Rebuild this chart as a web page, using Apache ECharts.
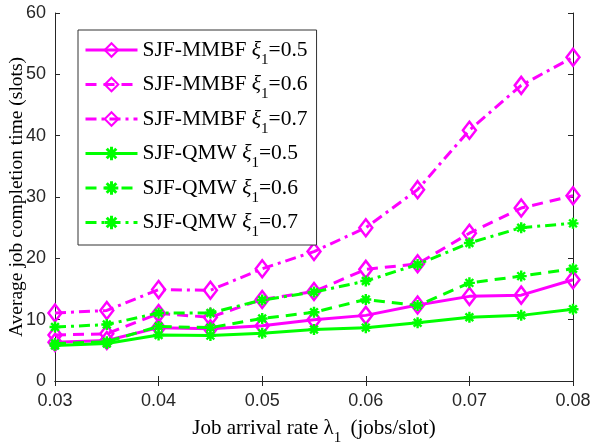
<!DOCTYPE html>
<html>
<head>
<meta charset="utf-8">
<script src="https://cdn.jsdelivr.net/npm/echarts@6/dist/echarts.min.js"></script>
<style>
  html, body { margin: 0; padding: 0; background: #fff; overflow: hidden; }
  #chart { width: 100vw; height: 100vh; }
</style>
</head>
<body>
<div id="chart"></div>
<script>
// Job arrival rate (jobs/slot)
const arrivalRates = [0.03, 0.035, 0.04, 0.045, 0.05, 0.055, 0.06, 0.065, 0.07, 0.075, 0.08];

// Average job completion time (slots)
const mmbf05 = [6.3, 6.6, 8.7, 8.5, 9.0, 10.0, 10.7, 12.4, 13.8, 14.0, 16.5];
const mmbf06 = [7.5, 7.7, 11.0, 10.4, 13.3, 14.6, 18.2, 19.1, 24.1, 28.2, 30.2];
const mmbf07 = [11.1, 11.5, 14.9, 14.8, 18.3, 21.1, 25.0, 31.2, 40.9, 48.2, 52.8];
const qmw05 = [5.8, 6.1, 7.5, 7.4, 7.8, 8.4, 8.7, 9.5, 10.4, 10.7, 11.7];
const qmw06 = [6.1, 6.4, 8.9, 8.7, 10.2, 11.2, 13.3, 12.3, 16.0, 17.1, 18.3];
const qmw07 = [8.8, 9.2, 11.1, 11.1, 13.2, 14.5, 16.3, 19.0, 22.5, 25.0, 25.7];

const seriesNames = [
  'SJF-MMBF ξ1=0.5', 'SJF-MMBF ξ1=0.6', 'SJF-MMBF ξ1=0.7',
  'SJF-QMW ξ1=0.5', 'SJF-QMW ξ1=0.6', 'SJF-QMW ξ1=0.7'
];

const MAGENTA = '#ff00ff';
const GREEN = '#00ff00';
const DASH = [11, 7];
const DASHDOT = [11, 5, 3, 5];

// asterisk marker built from four overlapping bars
const ASTERISK = 'path://' +
  'M-1,-0.22L1,-0.22L1,0.22L-1,0.22Z' +
  'M-0.22,-1L0.22,-1L0.22,1L-0.22,1Z' +
  'M-0.55,-0.86L0.86,0.55L0.55,0.86L-0.86,-0.55Z' +
  'M-0.86,0.55L0.55,-0.86L0.86,-0.55L-0.55,0.86Z';

function pairs(vals) {
  return arrivalRates.map((x, i) => [x, vals[i]]);
}

function mmbfSeries(name, vals, type) {
  return {
    name, type: 'line', data: pairs(vals),
    symbol: 'diamond', symbolSize: [13, 17],
    lineStyle: { color: MAGENTA, width: 3, type },
    itemStyle: { color: 'rgba(255,255,255,0)', borderColor: MAGENTA, borderWidth: 2.5 },
    z: 3
  };
}
function qmwSeries(name, vals, type) {
  return {
    name, type: 'line', data: pairs(vals),
    symbol: ASTERISK, symbolSize: 11,
    lineStyle: { color: GREEN, width: 3, type },
    itemStyle: { color: GREEN, borderWidth: 0 },
    z: 4
  };
}

const serif = '"Liberation Serif", "Times New Roman", serif';
const sans = '"Liberation Sans", Arial, Helvetica, sans-serif';

const chart = echarts.init(document.getElementById('chart'), null, { renderer: 'canvas' });

const axisLine = { show: true, lineStyle: { color: '#262626', width: 1 } };
const tick = { show: true, inside: true, length: 5, lineStyle: { color: '#262626' } };

chart.setOption({
  animation: false,
  backgroundColor: '#fff',
  grid: { left: 55, right: 17, top: 13, bottom: 62, outerBoundsMode: 'none', containLabel: false },
  xAxis: [{
    type: 'value', min: 0.03, max: 0.08, interval: 0.01,
    axisLine, axisTick: tick, splitLine: { show: false },
    axisLabel: { color: '#262626', fontFamily: sans, fontSize: 18, margin: 11,
      formatter: v => v.toFixed(2) },
    name: '{t|Job arrival rate }{l|λ}{s|1}{t| (jobs/slot)}',
    nameLocation: 'middle', nameGap: 30,
    nameTextStyle: {
      rich: {
        t: { fontFamily: serif, fontSize: 21, color: '#000' },
        l: { fontFamily: serif, fontSize: 21, color: '#000' },
        s: { fontFamily: serif, fontSize: 15, color: '#000', padding: [20, 4, 0, 0] }
      }
    }
  }, {
    type: 'value', position: 'top', min: 0.03, max: 0.08, interval: 0.01,
    axisLine, axisTick: tick, axisLabel: { show: false }, splitLine: { show: false }
  }],
  yAxis: [{
    type: 'value', min: 0, max: 60, interval: 10,
    axisLine, axisTick: tick, splitLine: { show: false },
    axisLabel: { color: '#262626', fontFamily: sans, fontSize: 18, margin: 9 },
    name: 'Average job completion time (slots)',
    nameLocation: 'middle', nameGap: 28, nameRotate: 90, nameMoveOverlap: false,
    nameTextStyle: { fontFamily: serif, fontSize: 19.5, color: '#000' }
  }, {
    type: 'value', position: 'right', min: 0, max: 60, interval: 10,
    axisLine, axisTick: tick, axisLabel: { show: false }, splitLine: { show: false }
  }],
  legend: {
    orient: 'vertical', left: 78, top: 30,
    backgroundColor: '#fff', borderColor: '#333', borderWidth: 1,
    padding: [9, 9, 5, 6],
    itemWidth: 52, itemHeight: 17, itemGap: 6,
    lineStyle: { width: 3 },
    data: seriesNames,
    formatter: name => {
      const m = name.match(/^(\S+) ξ1=(.*)$/);
      return '{t|' + m[1] + ' }{g|ξ}{s|1}{t|=' + m[2] + '}';
    },
    textStyle: {
      rich: {
        t: { fontFamily: serif, fontSize: 21.5, color: '#000' },
        g: { fontFamily: serif, fontSize: 21.5, fontStyle: 'italic', color: '#000' },
        s: { fontFamily: serif, fontSize: 15, color: '#000', padding: [20, 0, 0, 0] }
      }
    }
  },
  series: [
    mmbfSeries(seriesNames[0], mmbf05, 'solid'),
    mmbfSeries(seriesNames[1], mmbf06, DASH),
    mmbfSeries(seriesNames[2], mmbf07, DASHDOT),
    qmwSeries(seriesNames[3], qmw05, 'solid'),
    qmwSeries(seriesNames[4], qmw06, DASH),
    qmwSeries(seriesNames[5], qmw07, DASHDOT)
  ]
});
</script>
</body>
</html>
